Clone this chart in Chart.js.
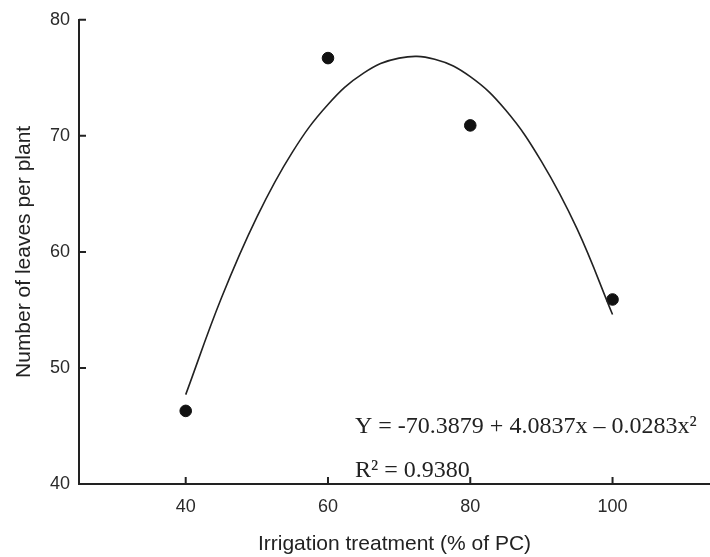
<!DOCTYPE html>
<html>
<head>
<meta charset="utf-8">
<script src="https://cdn.jsdelivr.net/npm/chart.js@4.4.1/dist/chart.umd.min.js"></script>
<style>
  html, body { margin: 0; padding: 0; background: #fff; }
  #wrap { width: 710px; height: 557px; position: relative; }
</style>
</head>
<body>
<div id="wrap"><canvas id="chart"></canvas></div>
<script>
// measured points
const irrigation = [40, 60, 80, 100];
const leaves = [46.3, 76.7, 70.9, 55.9];

// fitted curve
const fitX = [40, 45, 50, 55, 60, 65, 70, 75, 80, 85, 90, 95, 100];
const fitY = [47.7, 56.0, 63.0, 68.6, 72.7, 75.4, 76.7, 76.6, 75.1, 72.2, 67.8, 62.0, 54.6];

const xTicks = [40, 60, 80, 100];
const yTicks = [40, 50, 60, 70, 80];

const eqLine = "Y = -70.3879 + 4.0837x \u2013 0.0283x\u00b2";
const r2Line = "R\u00b2 = 0.9380";

const ink = '#222';
const sans = '"Liberation Sans", Arial, sans-serif';

// ticks point inward, plus the equation text
let extras = {
    id: 'extras',
    afterDraw(chart) {
        let ctx = chart.ctx;
        let xs = chart.scales.x, ys = chart.scales.y;
        let area = chart.chartArea;
        ctx.save();
        ctx.strokeStyle = ink;
        ctx.lineWidth = 2;
        ctx.beginPath();
        yTicks.forEach((v) => {
            let py = ys.getPixelForValue(v);
            ctx.moveTo(area.left, py);
            ctx.lineTo(area.left + 7, py);
        });
        xTicks.forEach((v) => {
            let px = xs.getPixelForValue(v);
            ctx.moveTo(px, area.bottom);
            ctx.lineTo(px, area.bottom - 7);
        });
        ctx.stroke();

        ctx.fillStyle = ink;
        ctx.font = '24px "Liberation Serif", "Times New Roman", serif';
        ctx.textBaseline = 'alphabetic';
        ctx.fillText(eqLine, 355, 433);
        ctx.fillText(r2Line, 355, 477);
        ctx.restore();
    }
};

new Chart(document.getElementById('chart'), {
    type: 'scatter',
    data: {
        datasets: [
            {
                label: 'fit',
                type: 'line',
                data: fitX.map((x, i) => ({ x: x, y: fitY[i] })),
                borderColor: ink,
                borderWidth: 1.6,
                pointRadius: 0,
                tension: 0.4,
                fill: false
            },
            {
                label: 'leaves',
                data: irrigation.map((x, i) => ({ x: x, y: leaves[i] })),
                backgroundColor: '#111',
                borderColor: '#111',
                pointRadius: 5.8
            }
        ]
    },
    options: {
        responsive: true,
        maintainAspectRatio: false,
        animation: false,
        layout: { autoPadding: false, padding: { top: 19, right: 0, left: 0, bottom: 0 } },
        plugins: {
            legend: { display: false },
            tooltip: { enabled: false }
        },
        scales: {
            x: {
                type: 'linear',
                min: 25,
                max: 113.7,
                afterBuildTicks: (s) => { s.ticks = xTicks.map(v => ({ value: v })); },
                afterFit: (s) => { s.height = 73; },
                grid: { display: false, drawTicks: false },
                border: { display: true, color: ink, width: 2 },
                ticks: {
                    color: '#2a2a2a',
                    padding: 12,
                    font: { family: sans, size: 18 }
                },
                title: {
                    display: true,
                    text: 'Irrigation treatment (% of PC)',
                    color: '#222',
                    padding: { top: 4, bottom: 0 },
                    font: { family: sans, size: 21 }
                }
            },
            y: {
                type: 'linear',
                min: 40,
                max: 80,
                afterBuildTicks: (s) => { s.ticks = yTicks.map(v => ({ value: v })); },
                afterFit: (s) => { s.width = 79; },
                grid: { display: false, drawTicks: false },
                border: { display: true, color: ink, width: 2 },
                ticks: {
                    color: '#2a2a2a',
                    padding: 9,
                    font: { family: sans, size: 18 }
                },
                title: {
                    display: true,
                    text: 'Number of leaves per plant',
                    color: '#222',
                    padding: { top: 12, bottom: 0 },
                    font: { family: sans, size: 21 }
                }
            }
        }
    },
    plugins: [extras]
});
</script>
</body>
</html>
